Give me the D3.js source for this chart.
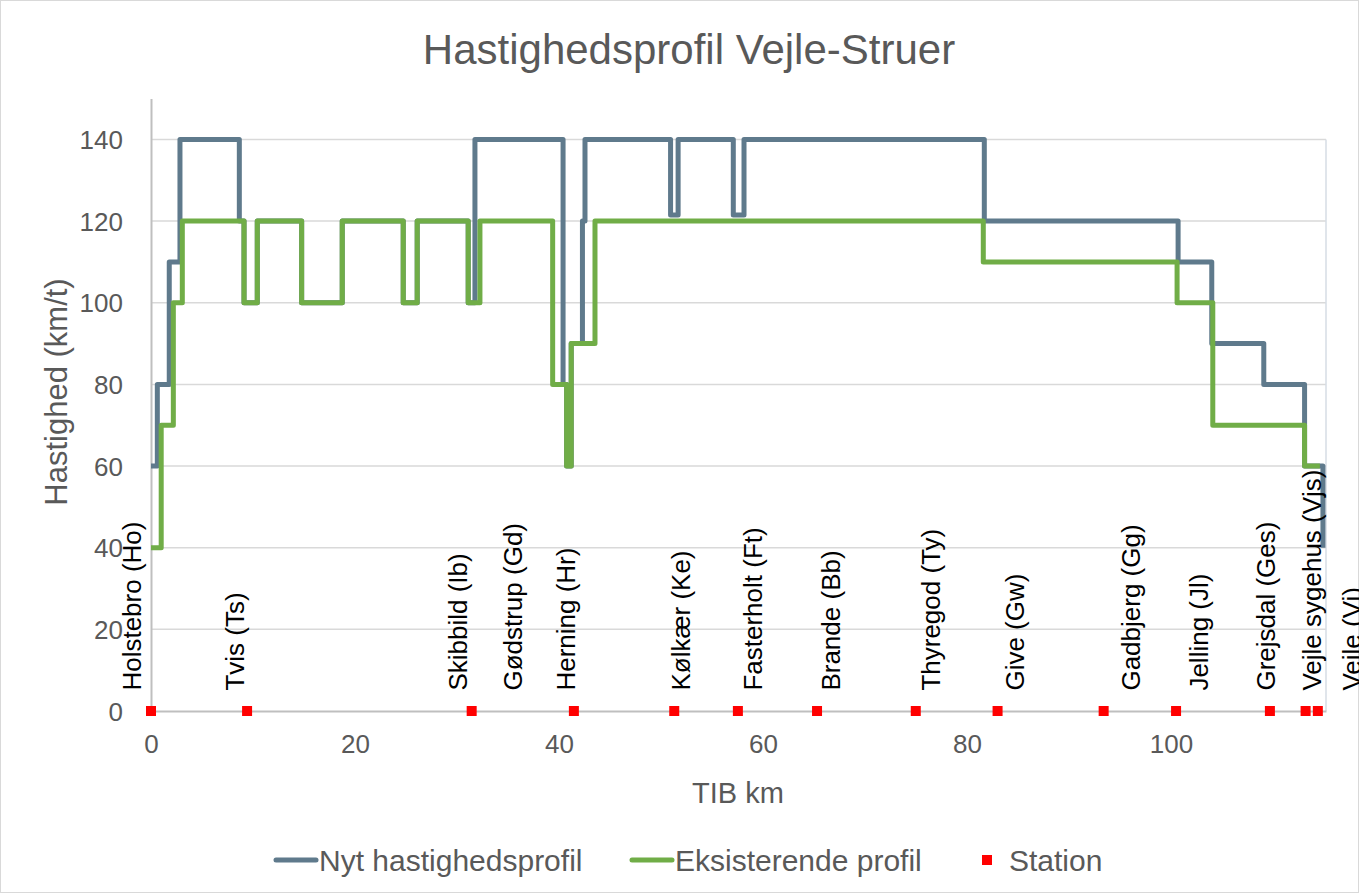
<!DOCTYPE html>
<html>
<head>
<meta charset="utf-8">
<script src="https://cdn.jsdelivr.net/npm/d3@7"></script>
<style>
  body { margin: 0; background: #fff; }
  svg text { font-family: "Liberation Sans", Arial, sans-serif; }
</style>
</head>
<body>
<div class="canvas"></div>
<script>
// speed profiles (km, speed where each step starts; last entry closes the line)
const nytKm = [0, 0.62, 1.79, 2.84, 8.66, 9.12, 10.42, 14.77, 18.75, 24.73, 26.1, 31.1, 31.76, 40.4, 40.75, 41.2, 42.3, 42.55, 50.94, 51.68, 57.09, 58.14, 81.7, 100.7, 104.0, 109.1, 113.1, 114.9];
const nytSpeed = [60, 80, 110, 140, 120, 100, 120, 100, 120, 100, 120, 100, 140, 80, 60, 90, 120, 140, 121.5, 140, 121.5, 140, 120, 110, 90, 80, 60, 40];

const eksKm = [0, 1.0, 2.19, 3.07, 9.12, 10.42, 14.77, 18.75, 24.73, 26.1, 31.1, 32.25, 39.38, 40.75, 41.2, 43.53, 81.6, 100.6, 104.1, 113.1, 114.6];
const eksSpeed = [40, 70, 100, 120, 100, 120, 100, 120, 100, 120, 100, 120, 80, 60, 90, 120, 110, 100, 70, 60, 60];

// stations
const stationKm = [0, 9.42, 31.44, 41.46, 51.3, 57.54, 65.3, 74.98, 83.0, 93.4, 100.5, 109.7, 113.2, 114.4];
const labelNames = ['Holstebro (Ho)', 'Tvis (Ts)', 'Skibbild (Ib)', 'Gødstrup (Gd)', 'Herning (Hr)', 'Kølkær (Ke)', 'Fasterholt (Ft)', 'Brande (Bb)', 'Thyregod (Ty)', 'Give (Gw)', 'Gadbjerg (Gg)', 'Jelling (Jl)', 'Grejsdal (Ges)', 'Vejle sygehus (Vjs)', 'Vejle (Vi)'];
const labelKm = [-1.9, 8.24, 30.1, 35.5, 40.7, 52.0, 59.05, 66.7, 76.45, 84.7, 96.1, 102.7, 109.3, 113.8, 117.75];

const xTicks = [0, 20, 40, 60, 80, 100];
const yTicks = [0, 20, 40, 60, 80, 100, 120, 140];

const width = 1359, height = 893;
const blue = '#5f7a8c', green = '#70ad47', grey = '#595959';

const svg = d3.select('.canvas')
  .append('svg')
    .attr('width', width)
    .attr('height', height);

// chart border
svg.append('rect')
  .attr('x', 0.5).attr('y', 0.5)
  .attr('width', width - 1).attr('height', height - 1)
  .attr('fill', 'none').attr('stroke', '#d9d9d9');

const x = d3.scaleLinear().domain([0, 115.2]).range([151, 1326]);
const y = d3.scaleLinear().domain([0, 150]).range([711, 98.6]);

// gridlines
svg.append('g')
  .selectAll('line')
  .data(yTicks.filter(d => d > 0))
  .enter().append('line')
    .attr('x1', x(0)).attr('x2', x(115.2))
    .attr('y1', d => y(d)).attr('y2', d => y(d))
    .attr('stroke', '#d9d9d9').attr('stroke-width', 1.5);

// right border of plot
svg.append('line')
  .attr('x1', x(115.2)).attr('x2', x(115.2))
  .attr('y1', y(140)).attr('y2', y(0))
  .attr('stroke', '#d6dce4').attr('stroke-width', 1.5);

// axes
const xAxisGroup = svg.append('g').attr('transform', `translate(0, ${y(0)})`);
const yAxisGroup = svg.append('g').attr('transform', `translate(${x(0)}, 0)`);

xAxisGroup.call(d3.axisBottom(x).tickValues(xTicks).tickSize(0).tickPadding(24));
yAxisGroup.call(d3.axisLeft(y).tickValues(yTicks).tickSize(0).tickPadding(28));

xAxisGroup.select('.domain').attr('stroke', '#bfbfbf').attr('stroke-width', 2);
yAxisGroup.select('.domain').attr('stroke', '#bfbfbf').attr('stroke-width', 2);
svg.selectAll('.tick text')
  .attr('fill', grey)
  .style('font-size', '26px')
  .style('font-family', '"Liberation Sans", Arial, sans-serif');
yAxisGroup.selectAll('.tick text').attr('dy', '0.35em');

// lines
const line = d3.line()
  .x(d => x(d[0]))
  .y(d => y(d[1]))
  .curve(d3.curveStepAfter);

svg.append('path')
  .datum(nytKm.map((k, i) => [k, nytSpeed[i]]))
  .attr('d', line)
  .attr('fill', 'none')
  .attr('stroke', blue)
  .attr('stroke-width', 5)
  .attr('stroke-linejoin', 'round');

svg.append('path')
  .datum(eksKm.map((k, i) => [k, eksSpeed[i]]))
  .attr('d', line)
  .attr('fill', 'none')
  .attr('stroke', green)
  .attr('stroke-width', 5)
  .attr('stroke-linejoin', 'round');

// station markers
svg.append('g')
  .selectAll('rect')
  .data(stationKm)
  .enter().append('rect')
    .attr('x', d => x(d) - 5)
    .attr('y', y(0) - 5)
    .attr('width', 10).attr('height', 10)
    .attr('fill', '#ff0000');

// station labels
svg.append('g')
  .selectAll('text')
  .data(labelNames)
  .enter().append('text')
    .attr('transform', (d, i) => `translate(${x(labelKm[i])}, ${y(5)}) rotate(-90)`)
    .attr('dy', '0.35em')
    .attr('fill', '#000')
    .style('font-size', '26px')
    .text(d => d);

// title
svg.append('text')
  .attr('x', 689).attr('y', 64)
  .attr('text-anchor', 'middle')
  .attr('fill', grey)
  .style('font-size', '42px')
  .text('Hastighedsprofil Vejle-Struer');

// axis titles
svg.append('text')
  .attr('x', 738).attr('y', 803)
  .attr('text-anchor', 'middle')
  .attr('fill', grey)
  .style('font-size', '29px')
  .text('TIB km');

svg.append('text')
  .attr('transform', 'translate(67, 392) rotate(-90)')
  .attr('text-anchor', 'middle')
  .attr('fill', grey)
  .style('font-size', '31px')
  .text('Hastighed (km/t)');

// legend
const legend = svg.append('g').attr('transform', 'translate(0, 860)');
const legendItems = [
  { name: 'Nyt hastighedsprofil', color: blue, type: 'line', x: 276 },
  { name: 'Eksisterende profil', color: green, type: 'line', x: 632 },
  { name: 'Station', color: '#ff0000', type: 'rect', x: 982 }
];
legendItems.forEach(item => {
  if (item.type === 'line') {
    legend.append('line')
      .attr('x1', item.x).attr('x2', item.x + 40)
      .attr('y1', 0).attr('y2', 0)
      .attr('stroke', item.color).attr('stroke-width', 5)
      .attr('stroke-linecap', 'round');
    legend.append('text')
      .attr('x', item.x + 43).attr('y', 0).attr('dy', '0.35em')
      .attr('fill', grey).style('font-size', '30px')
      .text(item.name);
  } else {
    legend.append('rect')
      .attr('x', item.x).attr('y', -5)
      .attr('width', 10).attr('height', 10)
      .attr('fill', item.color);
    legend.append('text')
      .attr('x', item.x + 27).attr('y', 0).attr('dy', '0.35em')
      .attr('fill', grey).style('font-size', '30px')
      .text(item.name);
  }
});
</script>
</body>
</html>
